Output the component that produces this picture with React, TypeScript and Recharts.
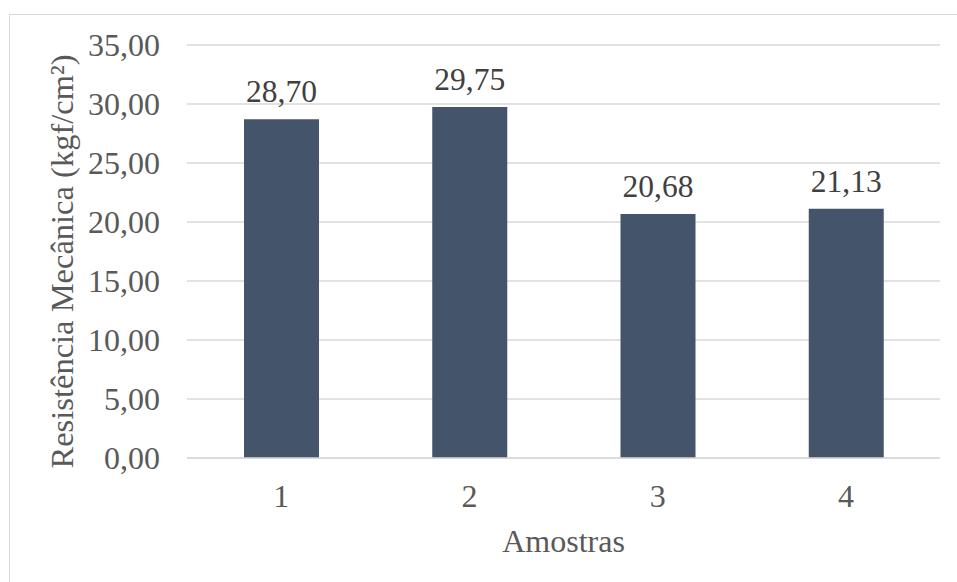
import React from 'react';
import { BarChart, Bar, XAxis, YAxis, CartesianGrid, LabelList, Label } from 'recharts';

const amostras = ['1', '2', '3', '4'];
const resistencia = [28.7, 29.75, 20.68, 21.13];
const yTicks = [0, 5, 10, 15, 20, 25, 30, 35];

const data = amostras.map((a, i) => ({ amostra: a, valor: resistencia[i] }));

const FONT = 'Liberation Serif';
const fmt = (v: number) => v.toFixed(2).replace('.', ',');

// rotated y-axis title, placed left of the tick labels
const YTitle = (props: any) => {
  const vb = props.viewBox || {};
  const cx = 73;
  const cy = vb.y + vb.height / 2 + 10;
  return (
    <text
      x={cx}
      y={cy}
      transform={`rotate(-90 ${cx} ${cy})`}
      textAnchor="middle"
      fill="#595959"
      fontSize={32.5}
      style={{ fontFamily: FONT }}
    >
      Resistência Mecânica (kgf/cm²)
    </text>
  );
};

export default function App() {
  return (
    <div
      style={{
        position: 'absolute',
        left: 0,
        top: 0,
        width: 957,
        height: 582,
        overflow: 'hidden',
        background: '#fff',
        fontFamily: FONT,
      }}
    >
      <div
        style={{
          position: 'absolute',
          left: 9,
          top: 14,
          width: 980,
          height: 620,
          border: '1px solid #d9d9d9',
        }}
      />
      <BarChart
        width={957}
        height={582}
        data={data}
        margin={{ top: 45, right: 17, bottom: 24, left: 67 }}
        style={{ position: 'absolute', left: 0, top: 0, fontFamily: FONT }}
      >
        <CartesianGrid vertical={false} stroke="#d9d9d9" strokeWidth={1.5} />
        <XAxis
          dataKey="amostra"
          height={100}
          axisLine={{ stroke: '#d9d9d9', strokeWidth: 1.5 }}
          tickLine={false}
          tickSize={0}
          tickMargin={26}
          tick={{ fill: '#595959', fontSize: 32, style: { fontFamily: FONT } }}
        >
          <Label
            value="Amostras"
            position="insideBottom"
            offset={6}
            fill="#595959"
            fontSize={32}
            style={{ fontFamily: FONT }}
          />
        </XAxis>
        <YAxis
          width={120}
          domain={[0, 35]}
          ticks={yTicks}
          axisLine={false}
          tickLine={false}
          tickSize={0}
          tickMargin={27}
          tickFormatter={fmt}
          tick={{ fill: '#595959', fontSize: 32, style: { fontFamily: FONT } }}
        >
          <Label content={<YTitle />} />
        </YAxis>
        <Bar dataKey="valor" fill="#44546A" barSize={75} isAnimationActive={false}>
          <LabelList
            dataKey="valor"
            position="top"
            offset={17}
            formatter={(v: any) => fmt(Number(v))}
            fill="#404040"
            fontSize={31.5}
            style={{ fontFamily: FONT }}
          />
        </Bar>
      </BarChart>
    </div>
  );
}
